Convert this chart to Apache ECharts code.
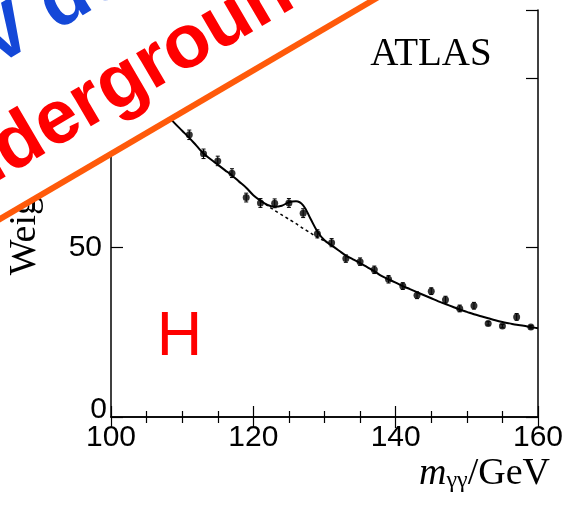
<!DOCTYPE html>
<html>
<head>
<meta charset="utf-8">
<script src="https://cdn.jsdelivr.net/npm/echarts@6/dist/echarts.min.js"></script>
<style>
    html, body { margin: 0; padding: 0; background: #fff; }
    #box1 { width: 565px; height: 508px; }
</style>
</head>
<body>
<div id="box1"></div>
<script>
// diphoton mass bins (GeV) and weighted data
var massBins = [111, 113, 115, 117, 119, 121, 123, 125, 127, 129, 131, 133, 135,
    137, 139, 141, 143, 145, 147, 149, 151, 153, 155, 157, 159];
var weights = [83.2, 77.6, 75.5, 71.9, 64.7, 63.1, 63.0, 63.1, 60.1, 54.0, 51.4, 46.7, 45.8,
    43.4, 40.6, 38.6, 35.9, 37.1, 34.6, 32.0, 32.8, 27.6, 26.8, 29.5, 26.5];
var weightErr = [1.4, 1.4, 1.4, 1.3, 1.3, 1.3, 1.3, 1.3, 1.3, 1.2, 1.2, 1.1, 1.1,
    1.1, 1.1, 1.0, 1.0, 1.0, 1.0, 1.0, 1.0, 0.5, 0.5, 1.0, 0.5];

// signal + background fit (solid)
var fitMass = [108, 109, 110, 111, 112, 113, 114, 115, 116, 117, 118, 119, 120, 121, 122, 123,
    124, 125, 126, 127, 128, 129, 130, 131, 132, 133, 134, 135, 136, 137, 138, 139, 140,
    141, 142, 143, 144, 145, 146, 147, 148, 149, 150, 151, 152, 153, 154, 155, 156, 157,
    158, 159, 160];
var fitTotal = [88.8, 86.5, 84.4, 82.3, 80.0, 77.7, 76.0, 74.4, 72.8, 71.2, 69.4, 67.6, 65.4, 63.8, 62.5, 62.0,
    62.3, 63.3, 63.6, 62.4, 58.6, 54.7, 52.1, 50.6, 49.1, 47.6, 46.5, 45.4, 44.2, 43.0, 41.6, 40.6, 39.6,
    38.6, 37.7, 36.8, 35.9, 35.0, 34.1, 33.3, 32.5, 31.7, 31.0, 30.3, 29.7, 29.1, 28.5, 28.0, 27.6, 27.2,
    26.9, 26.5, 26.2];

// background only (dashed)
var bkgMass = [121, 122, 123, 124, 125, 126, 127, 128, 129, 130];
var bkgOnly = [63.8, 62.3, 60.9, 59.6, 58.3, 57.0, 55.6, 54.3, 53.0, 51.9];

var xLabels = [100, 120, 140, 160];
var yLabels = [0, 50, 100];

var sans = '"Liberation Sans", Arial, Helvetica, sans-serif';
var serif = '"Liberation Serif", "Times New Roman", serif';

// banner decoration
var theta = 30.4 * Math.PI / 180;
var bannerFont = 76;
var measure = document.createElement('canvas').getContext('2d');
function textW(t) {
    measure.font = 'bold ' + bannerFont + 'px ' + sans;
    return measure.measureText(t).width;
}
// anchor point for a rotated text so that `prefix` ends at baseline point (px, py)
function bannerAnchor(prefix, px, py) {
    var w = textW(prefix);
    var bx = px - w * Math.cos(theta), by = py + w * Math.sin(theta);
    var up = bannerFont * 0.33;
    return [bx - up * Math.sin(theta), by - up * Math.cos(theta)];
}
var blueAt = bannerAnchor('125 Ge', -4, 71);
var redAt = bannerAnchor('Und', 52, 154);
function lineY(x) { return 219 - Math.tan(theta) * x; }

var chart = echarts.init(document.getElementById('box1'));

function errBar(params, api) {
    var x = api.value(0), y = api.value(1), e = api.value(2);
    var hi = api.coord([x, y + e]);
    var lo = api.coord([x, y - e]);
    var st = { stroke: '#000', lineWidth: 1 };
    return {
        type: 'group',
        children: [
            { type: 'line', shape: { x1: hi[0], y1: hi[1], x2: lo[0], y2: lo[1] }, style: st },
            { type: 'line', shape: { x1: hi[0] - 2, y1: hi[1], x2: hi[0] + 2, y2: hi[1] }, style: st },
            { type: 'line', shape: { x1: lo[0] - 2, y1: lo[1], x2: lo[0] + 2, y2: lo[1] }, style: st }
        ]
    };
}

var axisLine = { show: true, lineStyle: { color: '#000', width: 1.5 } };

var option = {
    animation: false,
    grid: { left: 111, right: 27, top: 10, bottom: 91, outerBoundsMode: 'none' },
    xAxis: [{
        type: 'value', min: 100, max: 160, interval: 20, position: 'bottom',
        axisLine: axisLine,
        axisTick: { show: true, inside: true, length: 11, lineStyle: { color: '#000', width: 1.2 } },
        minorTick: { show: true, splitNumber: 4, length: 6, lineStyle: { color: '#000', width: 1.2 } },
        splitLine: { show: false },
        axisLabel: {
            margin: 6, fontSize: 30, color: '#000', fontFamily: sans,
            formatter: function (v) { return xLabels.indexOf(v) >= 0 ? String(v) : ''; }
        },
        name: '{m|m}{g|γγ}{n|/GeV}',
        nameLocation: 'end',
        nameGap: 12,
        nameMoveOverlap: false,
        nameTextStyle: {
            align: 'right', verticalAlign: 'top', padding: [34, 0, 0, 0],
            rich: {
                m: { fontFamily: serif, fontStyle: 'italic', fontSize: 38, color: '#000', lineHeight: 42, verticalAlign: 'bottom' },
                g: { fontFamily: serif, fontSize: 24, color: '#000', lineHeight: 14, verticalAlign: 'bottom' },
                n: { fontFamily: serif, fontSize: 38, color: '#000', lineHeight: 42, verticalAlign: 'bottom' }
            }
        }
    }, {
        type: 'value', min: 100, max: 160, interval: 20, position: 'top',
        axisLine: axisLine,
        axisTick: { show: true, inside: true, length: 11, lineStyle: { color: '#000', width: 1.2 } },
        minorTick: { show: true, splitNumber: 4, length: 6, lineStyle: { color: '#000', width: 1.2 } },
        splitLine: { show: false },
        axisLabel: { show: false }
    }],
    yAxis: [{
        type: 'value', min: 0, max: 120, interval: 50, position: 'left',
        axisLine: axisLine,
        axisTick: { show: true, inside: true, length: 12, lineStyle: { color: '#000', width: 1.2 } },
        splitLine: { show: false },
        axisLabel: {
            margin: 9, fontSize: 30, color: '#000', fontFamily: sans,
            formatter: function (v) {
                if (yLabels.indexOf(v) < 0) return '';
                return v === 0 ? '{z|0}' : String(v);
            },
            rich: { z: { fontSize: 30, color: '#000', fontFamily: sans, padding: [0, -5, 14, 0] } }
        },
        name: 'Weights',
        nameLocation: 'middle',
        nameRotate: 90,
        nameGap: 67,
        nameMoveOverlap: false,
        nameTextStyle: { fontFamily: serif, fontSize: 38, color: '#000' }
    }, {
        type: 'value', min: 0, max: 120, interval: 50, position: 'right',
        axisLine: axisLine,
        axisTick: { show: true, inside: true, length: 12, lineStyle: { color: '#000', width: 1.2 } },
        splitLine: { show: false },
        axisLabel: { show: false }
    }],
    series: [{
        name: 'fit',
        type: 'line',
        data: fitMass.map(function (m, i) { return [m, fitTotal[i]]; }),
        smooth: 0.4,
        showSymbol: false,
        lineStyle: { color: '#000', width: 2 },
        z: 3
    }, {
        name: 'background',
        type: 'line',
        data: bkgMass.map(function (m, i) { return [m, bkgOnly[i]]; }),
        smooth: 0.3,
        showSymbol: false,
        lineStyle: { color: '#000', width: 1.5, type: [3, 3] },
        z: 3
    }, {
        name: 'errors',
        type: 'custom',
        renderItem: errBar,
        data: massBins.map(function (m, i) { return [m, weights[i], weightErr[i]]; }),
        z: 4
    }, {
        name: 'data',
        type: 'scatter',
        data: massBins.map(function (m, i) { return [m, weights[i]]; }),
        symbol: 'circle',
        symbolSize: 7,
        itemStyle: { color: '#000' },
        z: 5
    }],
    graphic: [{
        type: 'text', x: 431, y: 55, z: 50,
        style: { text: 'ATLAS', fontFamily: serif, fontSize: 39, fill: '#000', align: 'center', verticalAlign: 'middle' }
    }, {
        type: 'text', x: 179.5, y: 338, z: 50,
        style: { text: 'H', fontFamily: sans, fontSize: 63, fill: '#ff0000', align: 'center', verticalAlign: 'middle' }
    }, {
        type: 'polygon', z: 100,
        shape: { points: [[-20, -20], [(219 + 20) / Math.tan(theta), -20], [-20, lineY(-20)]] },
        style: { fill: '#fff' }
    }, {
        type: 'line', z: 101,
        shape: { x1: -20, y1: lineY(-20), x2: (219 + 30) / Math.tan(theta), y2: -30 },
        style: { stroke: '#ff5a0a', lineWidth: 6 }
    }, {
        type: 'text', x: blueAt[0], y: blueAt[1], rotation: theta, z: 102,
        style: { text: '125 GeV detected', fontFamily: sans, fontWeight: 'bold', fontSize: bannerFont, fill: '#1448d8', align: 'left', verticalAlign: 'middle' }
    }, {
        type: 'text', x: redAt[0], y: redAt[1], rotation: theta, z: 102,
        style: { text: 'Underground', fontFamily: sans, fontWeight: 'bold', fontSize: bannerFont, fill: '#ff0000', align: 'left', verticalAlign: 'middle' }
    }]
};

chart.setOption(option);
</script>
</body>
</html>
